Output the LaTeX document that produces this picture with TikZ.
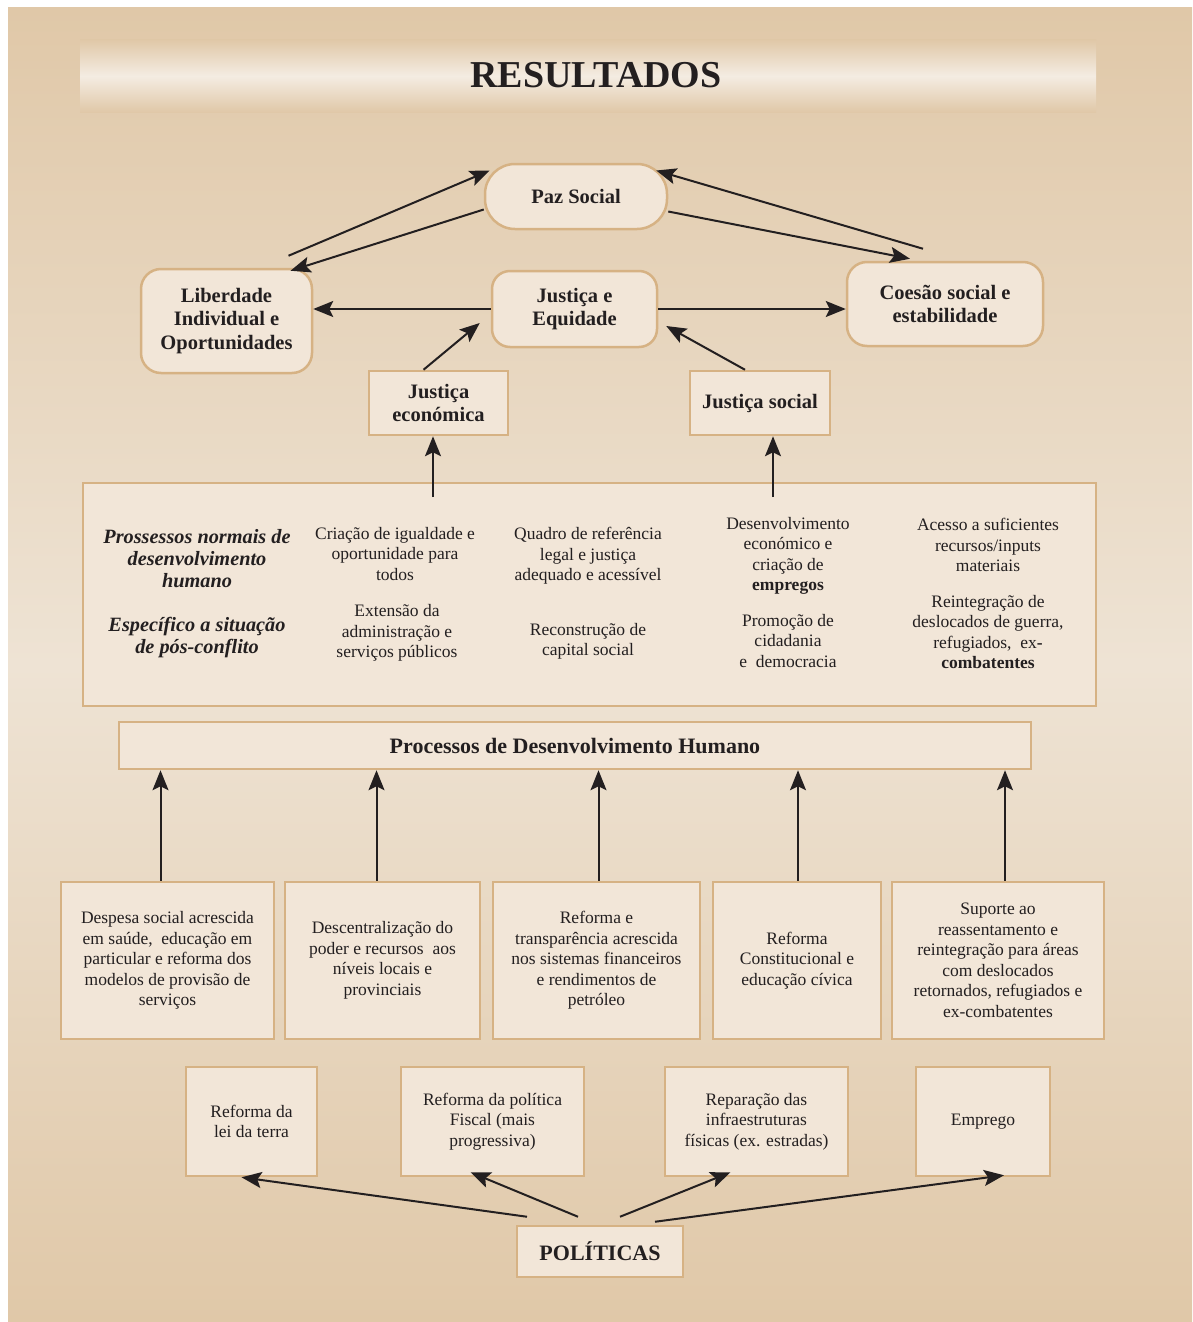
\documentclass[tikz,border=0pt]{standalone}
\usepackage{fontspec}
\setmainfont{Liberation Serif}
\usetikzlibrary{arrows.meta}
\definecolor{boxfill}{HTML}{F2E6D8}
\definecolor{boxline}{HTML}{D6B284}
\definecolor{bgdark}{HTML}{E0C8A8}
\definecolor{bglight}{HTML}{EEE3D4}
\definecolor{bandlight}{HTML}{F4ECE2}
\definecolor{ink}{HTML}{231F20}
\newcommand{\txtsize}{\fontsize{17.5}{20.5}\selectfont}
\newcommand{\headsize}{\fontsize{20.5}{23.5}\selectfont\bfseries}
\tikzset{
  box/.style={draw=boxline, fill=boxfill, line width=2.5pt, align=center,
    text=ink, inner sep=0pt, font=\txtsize},
  rbox/.style={box, rounded corners=20pt, font=\headsize},
  arr/.style={draw=ink, line width=2pt, -{Stealth[length=20pt,width=16pt,inset=4pt]}},
  txt/.style={align=center, text=ink, inner sep=0pt, font=\txtsize},
  itxt/.style={txt, font=\fontsize{20.3}{22}\selectfont\bfseries\itshape},
}
\begin{document}
\begin{tikzpicture}[x=1pt,y=-1pt]
        \useasboundingbox (0,0) rectangle (1192,1322);
        \fill[top color=bgdark, bottom color=bgdark, middle color=bglight] (8,8) rectangle (1192,1322);
        \fill[top color=bgdark, bottom color=bgdark, middle color=bandlight] (80,40) rectangle (1096,112);
        \node[text=ink, font=\fontsize{38}{40}\selectfont\bfseries] (title) at (596,75) {RESULTADOS};

        % resultados
        \node[rbox, rounded corners=30pt, minimum width=182pt, minimum height=65pt] (paz) at (576,196.5) {Paz Social};
        \node[rbox, minimum width=171pt, minimum height=104pt] (lib) at (226.5,321) {Liberdade\\Individual e\\Oportunidades};
        \node[rbox, rounded corners=18pt, minimum width=165pt, minimum height=76pt] (je) at (574.5,309) {Justiça e\\Equidade};
        \node[rbox, minimum width=196pt, minimum height=84pt] (coe) at (945,304) {Coesão social e\\estabilidade};
        \node[box, font=\headsize, minimum width=139pt, minimum height=64pt] (jec) at (438.5,403) {Justiça\\económica};
        \node[box, font=\headsize, minimum width=140pt, minimum height=64pt] (js) at (760,403) {Justiça social};

        \draw[arr] ([xshift=62pt,yshift=12pt]lib.north) -- ([xshift=6pt,yshift=26pt]paz.west);
        \draw[arr] ([yshift=-13pt]paz.west) -- ([xshift=64pt,yshift=-3pt]lib.north);
        \draw[arr] ([yshift=-15pt]paz.east) -- ([xshift=-35pt,yshift=2pt]coe.north);
        \draw[arr] ([xshift=-22pt,yshift=12pt]coe.north) -- ([xshift=-12pt,yshift=26pt]paz.east);
        \draw[arr] (je.west) -- (je.west -| lib.east);
        \draw[arr] (je.east) -- (je.east -| coe.west);
        \draw[arr] ([xshift=-15pt]jec.north) -- ([xshift=-11pt,yshift=-14pt]je.west);
        \draw[arr] ([xshift=-15pt]js.north) -- ([xshift=8pt,yshift=-17pt]je.east);

        % processos
        \node[box, minimum width=1013pt, minimum height=223pt] (big) at (589.5,594.5) {};
        \node[itxt] (c1a) at (197,559) {Prossessos normais de\\desenvolvimento\\humano};
        \node[itxt] (c1b) at (197,638) {Específico a situação\\de pós-conflito};
        \node[txt] (c2a) at (395,554) {Criação de igualdade e\\oportunidade para\\todos};
        \node[txt] (c2b) at (397,633) {Extensão da\\administração e\\serviços públicos};
        \node[txt] (c3a) at (588,556) {Quadro de referência\\legal e justiça\\adequado e acessível};
        \node[txt] (c3b) at (588,641.5) {Reconstrução de\\capital social};
        \node[txt] (c4a) at (788,556) {Desenvolvimento\\económico e\\criação de\\\textbf{empregos}};
        \node[txt] (c4b) at (788,641) {Promoção de\\cidadania\\e\ \ democracia};
        \node[txt] (c5a) at (988,545) {Acesso a suficientes\\recursos/inputs\\materiais};
        \node[txt] (c5b) at (988,632) {Reintegração de\\deslocados de guerra,\\refugiados,\ \ ex\textbf{-}\\\textbf{combatentes}};
        \coordinate (t1) at (433,497);
        \coordinate (t2) at (773,497);
        \draw[arr] (t1) -- (t1 |- jec.south);
        \draw[arr] (t2) -- (t2 |- js.south);

        \node[box, font=\fontsize{22}{24}\selectfont\bfseries, minimum width=912pt, minimum height=47pt] (proc) at (575,745.5) {Processos de Desenvolvimento Humano};

        \node[box, minimum width=213pt, minimum height=157pt] (b1) at (167.5,960.5) {Despesa social acrescida\\em saúde,\ \ educação em\\particular e reforma dos\\modelos de provisão de\\serviços};
        \node[box, minimum width=195pt, minimum height=157pt] (b2) at (382.5,960.5) {Descentralização do\\poder e recursos\ \ aos\\níveis locais e\\provinciais};
        \node[box, minimum width=207pt, minimum height=157pt] (b3) at (596.5,960.5) {Reforma e\\transparência acrescida\\nos sistemas financeiros\\e rendimentos de\\petróleo};
        \node[box, minimum width=168pt, minimum height=157pt] (b4) at (797,960.5) {Reforma\\Constitucional e\\educação cívica};
        \node[box, minimum width=212pt, minimum height=157pt] (b5) at (998,960.5) {Suporte ao\\reassentamento e\\reintegração para áreas\\com deslocados\\retornados, refugiados e\\ex-combatentes};
        \foreach \b/\s in {b1/-7,b2/-6,b3/2,b4/1,b5/7}
          \draw[arr] ([xshift=\s pt]\b.north) -- ([xshift=\s pt]\b.north |- proc.south);

        % politicas
        \node[box, minimum width=131pt, minimum height=109pt] (r1) at (251.5,1121.5) {Reforma da\\lei da terra};
        \node[box, minimum width=183pt, minimum height=109pt] (r2) at (492.5,1121.5) {Reforma da política\\Fiscal (mais\\progressiva)};
        \node[box, minimum width=183pt, minimum height=109pt] (r3) at (756.5,1121.5) {Reparação das\\infraestruturas\\físicas (ex. estradas)};
        \node[box, minimum width=134pt, minimum height=109pt] (r4) at (983,1121.5) {Emprego};
        \node[box, font=\fontsize{22}{24}\selectfont\bfseries, minimum width=166pt, minimum height=51pt] (pol) at (600,1251.5) {POLÍTICAS};

        \draw[arr] ([xshift=-73pt,yshift=8pt]pol.north) -- ([xshift=-10pt]r1.south);
        \draw[arr] ([xshift=-22pt,yshift=8pt]pol.north) -- ([xshift=-22pt,yshift=5pt]r2.south);
        \draw[arr] ([xshift=20pt,yshift=8pt]pol.north) -- ([xshift=-26pt,yshift=5pt]r3.south);
        \draw[arr] ([xshift=55pt,yshift=3pt]pol.north) -- ([xshift=21pt,yshift=2pt]r4.south);
\end{tikzpicture}
\end{document}
